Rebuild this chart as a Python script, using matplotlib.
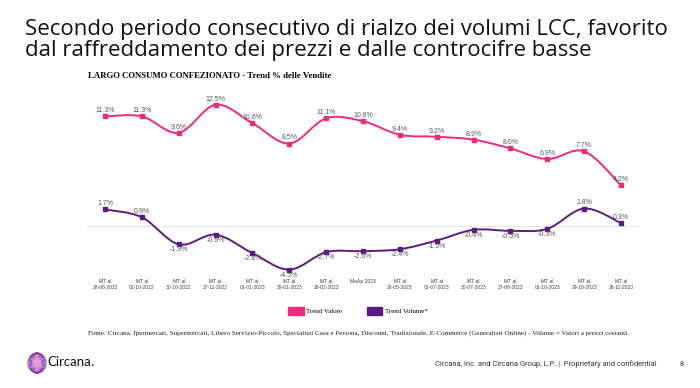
from matplotlib import pyplot as plt
from matplotlib.path import Path
from matplotlib.patches import PathPatch, Patch, Ellipse
import numpy as np

periods = ["MT al\n28-08-2022", "MT al\n02-10-2022", "MT al\n30-10-2022", "MT al\n27-11-2022",
           "MT al\n01-01-2023", "MT al\n29-01-2023", "MT al\n26-02-2023", "MaAp 2023",
           "MT al\n28-05-2023", "MT al\n02-07-2023", "MT al\n30-07-2023", "MT al\n27-08-2023",
           "MT al\n01-10-2023", "MT al\n29-10-2023", "MT al\n26-11-2023"]
trend_valore = [11.3, 11.3, 9.6, 12.5, 10.6, 8.5, 11.1, 10.8, 9.4, 9.2, 8.9, 8.0, 6.9, 7.7, 4.2]
trend_volume = [1.7, 0.9, -1.9, -0.9, -2.8, -4.5, -2.7, -2.6, -2.4, -1.5, -0.4, -0.5, -0.3, 1.8, 0.3]

PINK = "#EE2A7B"
PURPLE = "#5C1A80"


def smooth_path(xs, ys):
    # catmull-rom style bezier through the points
    pts = np.column_stack([xs, ys]).astype(float)
    n = len(pts)
    verts = [pts[0]]
    codes = [Path.MOVETO]
    for i in range(n - 1):
        p0 = pts[max(i - 1, 0)]
        p1 = pts[i]
        p2 = pts[i + 1]
        p3 = pts[min(i + 2, n - 1)]
        c1 = p1 + (p2 - p0) / 6.0
        c2 = p2 - (p3 - p1) / 6.0
        verts += [c1, c2, p2]
        codes += [Path.CURVE4] * 3
    return Path(verts, codes)


def draw_series(ax, vals, color, below_neg):
    x = np.arange(len(vals))
    ax.add_patch(PathPatch(smooth_path(x, vals), facecolor="none", edgecolor=color, lw=1.4))
    ax.plot(x, vals, ls="none", marker="s", ms=2.2, color=color)
    for xi, v in zip(x, vals):
        off = -4 if (below_neg and v < 0) else 4
        ax.annotate(f"{v:.1f}%", (xi, v), xytext=(0, off), textcoords="offset points",
                    ha="center", va="center", fontsize=5, color="#595959",
                    family="Liberation Sans")


fig = plt.figure(figsize=(7, 3.88), dpi=100)
fig.text(25 / 700, 1 - 40 / 388,
         "Secondo periodo consecutivo di rialzo dei volumi LCC, favorito\n"
         "dal raffreddamento dei prezzi e dalle controcifre basse",
         fontsize=16, family="Open Sans", color="#111111", va="center", linespacing=0.95)
fig.text(88 / 700, 1 - 76 / 388, "LARGO CONSUMO CONFEZIONATO - Trend % delle Vendite",
         fontsize=6.3, family="Liberation Serif", weight="bold", va="center")

ax = fig.add_axes([86.6 / 700, 1 - 276.4 / 388, (639.4 - 86.6) / 700, (276.4 - 90.2) / 388])
ax.set_xlim(-0.5, len(periods) - 0.5)
ax.set_ylim(-5.2, 14)
for s in ax.spines.values():
    s.set_visible(False)
ax.axhline(0, color="#e4e4e4", lw=0.8, zorder=0)
ax.set_yticks([])
ax.set_xticks(range(len(periods)))
ax.set_xticklabels(periods, fontsize=3.6, color="#404040", family="Liberation Sans", linespacing=1.1)
ax.tick_params(axis="x", length=0, pad=2)

draw_series(ax, trend_valore, PINK, False)
draw_series(ax, trend_volume, PURPLE, True)

handles = [Patch(color=PINK, label="Trend Valore"), Patch(color=PURPLE, label="Trend Volume*")]
fig.legend(handles=handles, loc="center", bbox_to_anchor=(358 / 700, 1 - 311 / 388), ncol=2,
           frameon=False, prop={"family": "Liberation Serif", "size": 5},
           handlelength=2.2, handleheight=1.6, columnspacing=3.5, handletextpad=0.4)

fig.text(88 / 700, 1 - 333 / 388,
         "Fonte: Circana. Ipermercati, Supermercati, Libero Servizio-Piccolo, Specialisti Casa e Persona, "
         "Discount, Tradizionale, E-Commerce (Generalisti Online) - Volume = Valori a prezzi costanti.",
         fontsize=5.1, family="Liberation Serif", color="#222222", va="center")

# footer
fig.text(657 / 700, 1 - 364 / 388, "Circana, Inc. and Circana Group, L.P. |  Proprietary and confidential",
         fontsize=5.4, family="Roboto", color="#333333", ha="right", va="center")
fig.text(682 / 700, 1 - 364 / 388, "8", fontsize=5.4, family="Roboto", color="#333333",
         ha="center", va="center")

# logo
lax = fig.add_axes([27 / 700, 1 - 374 / 388, 20 / 700, 22 / 388])
lax.set_xlim(-1.1, 1.1)
lax.set_ylim(-1.1, 1.1)
lax.axis("off")
cols = plt.matplotlib.colors.LinearSegmentedColormap.from_list("c", ["#F06FB0", "#8A3FC0", "#6A2A9A"])
for k, w in enumerate(np.linspace(0.15, 2.0, 8)):
    lax.add_patch(Ellipse((0, 0), w, 2.0, fill=False, lw=0.6, edgecolor=cols(k / 7)))
fig.text(47 / 700, 1 - 362 / 388, "Circana", fontsize=9.5, family="Lato", color="#111111",
         va="center")
fig.text(90 / 700, 1 - 362 / 388, ".", fontsize=9.5, family="Lato", color="#7B2FA8",
         va="center", weight="bold")

plt.savefig("out.png", dpi=100)
